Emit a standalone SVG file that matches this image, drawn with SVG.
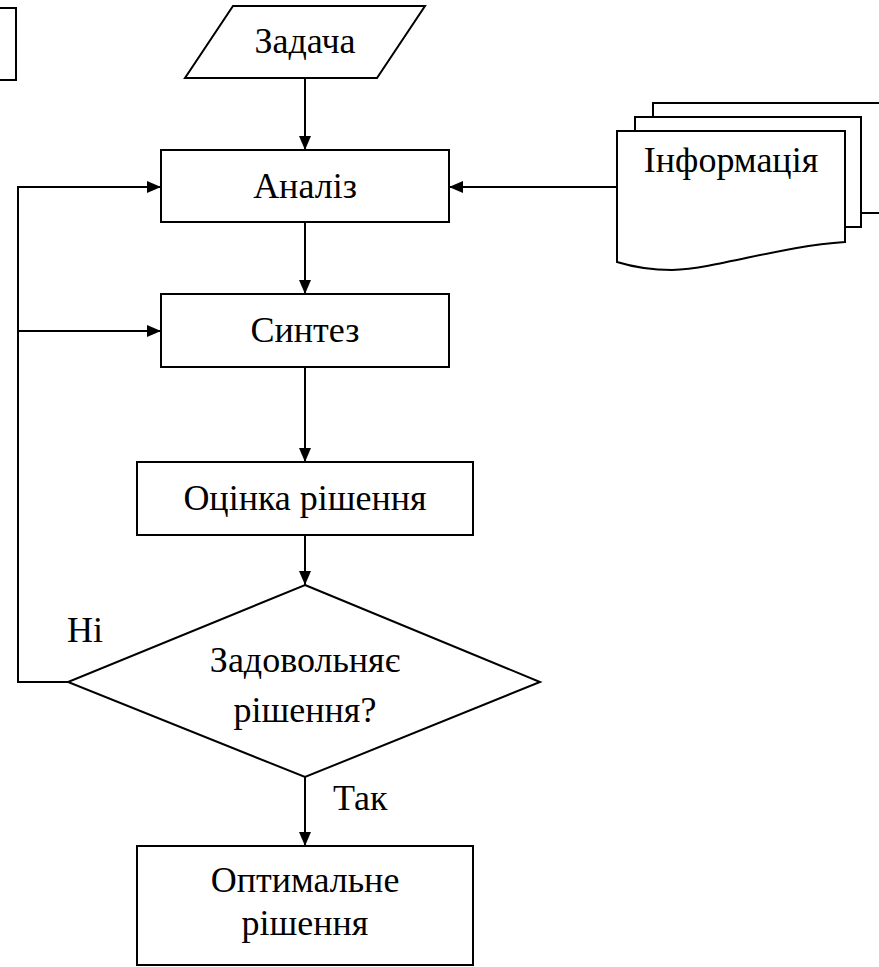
<svg xmlns="http://www.w3.org/2000/svg" width="879" height="967" viewBox="0 0 879 967">
<defs>
<style>
.s{fill:#fff;stroke:#000;stroke-width:2}
.c{fill:none;stroke:#000;stroke-width:2}
text{font-family:'Liberation Serif','Times New Roman',Tinos,'Noto Serif','DejaVu Serif',serif;font-size:36px;fill:#000}
.m{text-anchor:middle}
</style>
<marker id="ah" viewBox="0 0 14 12" refX="14" refY="6" markerWidth="14" markerHeight="12" markerUnits="userSpaceOnUse" orient="auto">
<path d="M0,0 L14,6 L0,12 Z" fill="#000"/>
</marker>
</defs>
<rect width="879" height="967" fill="#fff"/>
<g id="corner"><rect class="s" x="-10" y="8" width="26" height="72"/></g>
<g id="connectors">
<line class="c" x1="305" y1="78" x2="305" y2="150" marker-end="url(#ah)"/>
<line class="c" x1="617" y1="187" x2="449" y2="187" marker-end="url(#ah)"/>
<line class="c" x1="305" y1="222" x2="305" y2="294" marker-end="url(#ah)"/>
<line class="c" x1="305" y1="367" x2="305" y2="462" marker-end="url(#ah)"/>
<line class="c" x1="305" y1="535" x2="305" y2="585" marker-end="url(#ah)"/>
<polyline class="c" points="68,682 18,682 18,187 161,187" marker-end="url(#ah)"/>
<polyline class="c" points="18,331 161,331" marker-end="url(#ah)"/>
<line class="c" x1="305" y1="777" x2="305" y2="846" marker-end="url(#ah)"/>
</g>
<g id="zadacha">
<polygon class="s" points="233,6 425,6 377,78 185,78"/>
<text class="m" x="305" y="53">Задача</text>
</g>
<g id="informatsiia">
<path class="s" d="M653,213 L653,103 L885,103 L885,213 Z"/>
<path class="s" d="M635,227 L635,117 L861,117 L861,227 Z"/>
<path class="s" d="M617,262 L617,131 L845,131 L845,242 C780,246 720,268 672,270 C650,270 630,266 617,262 Z"/>
<text class="m" x="731" y="172">Інформація</text>
</g>
<g id="analiz">
<rect class="s" x="161" y="150" width="288" height="72"/>
<text class="m" x="305" y="198">Аналіз</text>
</g>
<g id="syntez">
<rect class="s" x="161" y="294" width="288" height="73"/>
<text class="m" x="305" y="342">Синтез</text>
</g>
<g id="otsinka">
<rect class="s" x="137" y="462" width="336" height="73"/>
<text class="m" x="305" y="510">Оцінка рішення</text>
</g>
<g id="rishennia">
<polygon class="s" points="305,585 540,682 305,777 68,682"/>
<text class="m" x="305" y="672">Задовольняє</text>
<text class="m" x="305" y="722">рішення?</text>
</g>
<text x="67" y="642">Ні</text>
<text x="333" y="810">Так</text>
<g id="optymalne">
<rect class="s" x="137" y="846" width="336" height="119"/>
<text class="m" x="305" y="892">Оптимальне</text>
<text class="m" x="305" y="935">рішення</text>
</g>
</svg>
